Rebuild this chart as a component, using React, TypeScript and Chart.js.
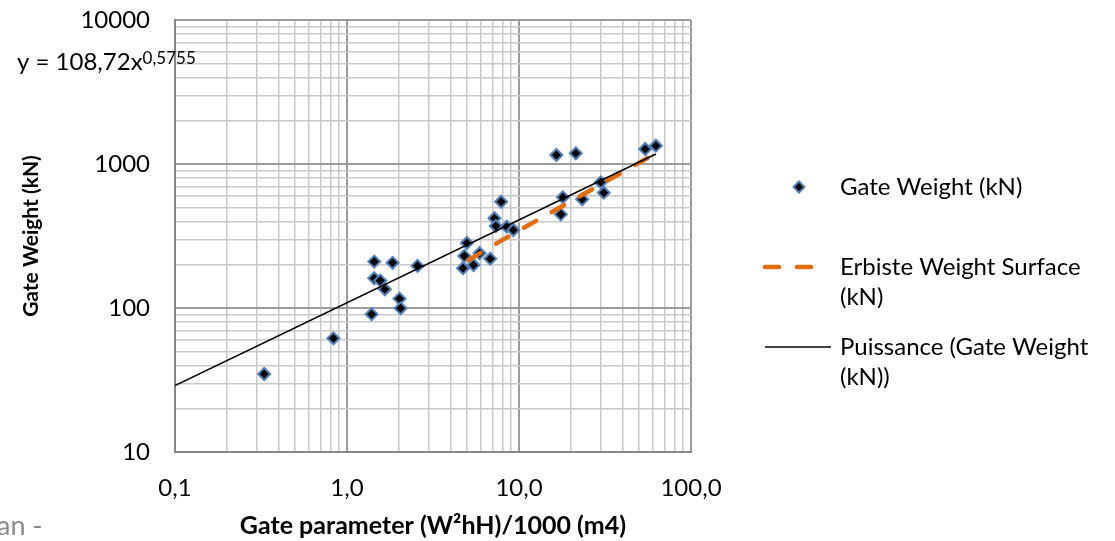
import React, { useEffect, useRef } from 'react';
import { Chart, registerables } from 'chart.js';

Chart.register(...registerables);

// ---- data ----
const gateX = [0.33, 0.834, 1.39, 1.44, 1.44, 1.56, 1.66, 1.84, 2.02, 2.05, 2.57, 4.73, 4.81, 4.98, 5.44, 5.9, 6.8, 7.2, 7.33, 7.87, 8.49, 9.28, 16.5, 17.5, 18.0, 21.4, 23.3, 29.9, 31.1, 54.2, 62.5];
const gateY = [34.8, 61.6, 90.6, 210, 161, 155, 135, 206, 116, 99.5, 196, 189, 230, 283, 199, 240, 220, 420, 371, 547, 367, 348, 1155, 447, 587, 1186, 569, 746, 632, 1271, 1340];

const erbisteX = [5.1, 6.8, 9.9, 20.8, 58.5];
const erbisteY = [215, 265, 343, 565, 1136];

const trendX = [0.1, 62.5];
const trendY = [28.9, 1174];

const xMajors = [0.1, 1, 10, 100];
const xTickLabels = ['0,1', '1,0', '10,0', '100,0'];
const yMajors = [10, 100, 1000, 10000];
const yTickLabels = ['10', '100', '1000', '10000'];

const seriesNames = ['Gate Weight (kN)', 'Erbiste Weight Surface (kN)', 'Puissance (Gate Weight (kN))'];
const legendLines = [['Gate Weight (kN)'], ['Erbiste Weight Surface', '(kN)'], ['Puissance (Gate Weight', '(kN))']];
const xTitle = 'Gate parameter (W²hH)/1000 (m4)';
const yTitle = 'Gate Weight (kN)';
const eqMain = 'y = 108,72x';
const eqExp = '0,5755';
const strayText = 'an -';

const FONT = 'Lato, "Open Sans", sans-serif';
const MARKER_BORDER = '#4F81BD';
const ORANGE = '#E46C0A';
const MAJOR_GRID = '#9b9b9b';
const MINOR_GRID = '#c9c9c9';

function buildLogTicks(majors: number[]) {
  const out: { value: number; major: boolean }[] = [];
  for (let i = 0; i < majors.length - 1; i++) {
    for (let k = 1; k <= 9; k++) out.push({ value: majors[i] * k, major: k === 1 });
  }
  out.push({ value: majors[majors.length - 1], major: true });
  return out;
}

function labelFor(majors: number[], labels: string[], value: number) {
  const i = majors.findIndex((m) => Math.abs(m - value) / m < 1e-6);
  return i >= 0 ? labels[i] : '';
}

function drawDiamond(ctx: CanvasRenderingContext2D, x: number, y: number, r: number) {
  ctx.beginPath();
  ctx.moveTo(x, y - r);
  ctx.lineTo(x + r, y);
  ctx.lineTo(x, y + r);
  ctx.lineTo(x - r, y);
  ctx.closePath();
  ctx.fillStyle = '#000';
  ctx.fill();
  ctx.lineWidth = 2;
  ctx.strokeStyle = MARKER_BORDER;
  ctx.stroke();
}

const overlayPlugin = {
  id: 'overlay',
  afterDraw(chart: any) {
    const ctx: CanvasRenderingContext2D = chart.ctx;
    ctx.save();
    // equation
    ctx.fillStyle = '#000';
    ctx.textAlign = 'left';
    ctx.textBaseline = 'alphabetic';
    ctx.font = `24px ${FONT}`;
    ctx.fillText(eqMain, 17, 70);
    const w = ctx.measureText(eqMain).width;
    ctx.font = `17px ${FONT}`;
    ctx.fillText(eqExp, 17 + w, 64);

    // stray text
    ctx.fillStyle = '#8a8a8a';
    ctx.font = `27px ${FONT}`;
    ctx.fillText(strayText, -3, 535);

    // legend
    ctx.font = `24px ${FONT}`;
    ctx.fillStyle = '#000';
    ctx.textBaseline = 'middle';
    const textX = 840;
    const rows = [187, 267, 347];
    const lh = 30;
    drawDiamond(ctx, 799, rows[0], 5.5);
    ctx.save();
    ctx.strokeStyle = ORANGE;
    ctx.lineWidth = 4.5;
    ctx.lineCap = 'round';
    ctx.setLineDash([14, 18]);
    ctx.beginPath();
    ctx.moveTo(765, rows[1]);
    ctx.lineTo(817, rows[1]);
    ctx.stroke();
    ctx.restore();
    ctx.strokeStyle = '#000';
    ctx.lineWidth = 1.5;
    ctx.beginPath();
    ctx.moveTo(765, rows[2]);
    ctx.lineTo(831, rows[2]);
    ctx.stroke();
    ctx.fillStyle = '#000';
    legendLines.forEach((lines, i) => {
      lines.forEach((t, j) => ctx.fillText(t, textX, rows[i] + j * lh));
    });
    ctx.restore();
  },
};

export default function App() {
  const ref = useRef<HTMLCanvasElement>(null);
  useEffect(() => {
    const canvas = ref.current!;
    const chart = new Chart(canvas, {
      type: 'scatter',
      data: {
        datasets: [
          {
            label: seriesNames[2],
            data: trendX.map((x, i) => ({ x, y: trendY[i] })),
            showLine: true,
            borderColor: '#000',
            borderWidth: 1.5,
            pointRadius: 0,
            pointHoverRadius: 0,
          },
          {
            label: seriesNames[1],
            data: erbisteX.map((x, i) => ({ x, y: erbisteY[i] })),
            showLine: true,
            borderColor: ORANGE,
            borderWidth: 4.5,
            borderDash: [14, 18],
            borderCapStyle: 'round',
            pointRadius: 0,
            pointHoverRadius: 0,
          },
          {
            label: seriesNames[0],
            data: gateX.map((x, i) => ({ x, y: gateY[i] })),
            pointStyle: 'rectRot',
            pointRadius: 6,
            pointBorderWidth: 2,
            backgroundColor: '#000',
            borderColor: MARKER_BORDER,
          },
        ],
      },
      options: {
        responsive: false,
        animation: false,
        devicePixelRatio: 1,
        layout: { padding: { left: 0, right: 424, top: 20, bottom: 0 } },
        plugins: { legend: { display: false }, tooltip: { enabled: false } },
        scales: {
          x: {
            type: 'logarithmic',
            min: 0.1,
            max: 100,
            afterBuildTicks: (scale: any) => {
              scale.ticks = buildLogTicks(xMajors);
            },
            afterFit: (scale: any) => {
              scale.height = 89;
              scale.paddingLeft = 0;
              scale.paddingRight = 0;
            },
            ticks: {
              autoSkip: false,
              maxRotation: 0,
              padding: 22,
              color: '#000',
              font: { family: FONT, size: 24 },
              callback: (v: any) => labelFor(xMajors, xTickLabels, Number(v)),
            },
            grid: {
              drawTicks: false,
              color: (c: any) => (c.tick && c.tick.major ? MAJOR_GRID : MINOR_GRID),
              lineWidth: (c: any) => (c.tick && c.tick.major ? 2 : 1.5),
            },
            border: { color: '#868686', width: 2 },
            title: {
              display: true,
              text: xTitle,
              color: '#000',
              font: { family: FONT, size: 25, weight: 'bold' },
              padding: { top: 0, bottom: 0 },
            },
          },
          y: {
            type: 'logarithmic',
            min: 10,
            max: 10000,
            afterBuildTicks: (scale: any) => {
              scale.ticks = buildLogTicks(yMajors);
            },
            afterFit: (scale: any) => {
              scale.width = 175;
              scale.paddingTop = 0;
              scale.paddingBottom = 0;
            },
            ticks: {
              autoSkip: false,
              padding: 25,
              color: '#000',
              font: { family: FONT, size: 24 },
              callback: (v: any) => labelFor(yMajors, yTickLabels, Number(v)),
            },
            grid: {
              drawTicks: false,
              color: (c: any) => (c.tick && c.tick.major ? MAJOR_GRID : MINOR_GRID),
              lineWidth: (c: any) => (c.tick && c.tick.major ? 2 : 1.5),
            },
            border: { color: '#868686', width: 2 },
            title: {
              display: true,
              text: yTitle,
              color: '#000',
              font: { family: FONT, size: 21, weight: 'bold' },
              padding: { top: 19, bottom: 0 },
            },
          },
        },
      },
      plugins: [overlayPlugin],
    } as any);
    return () => chart.destroy();
  }, []);
  return (
    <div style={{ position: 'fixed', left: 0, top: 0, width: 1115, height: 541, background: '#fff' }}>
      <canvas ref={ref} width={1115} height={541} style={{ display: 'block', width: 1115, height: 541 }} />
    </div>
  );
}
